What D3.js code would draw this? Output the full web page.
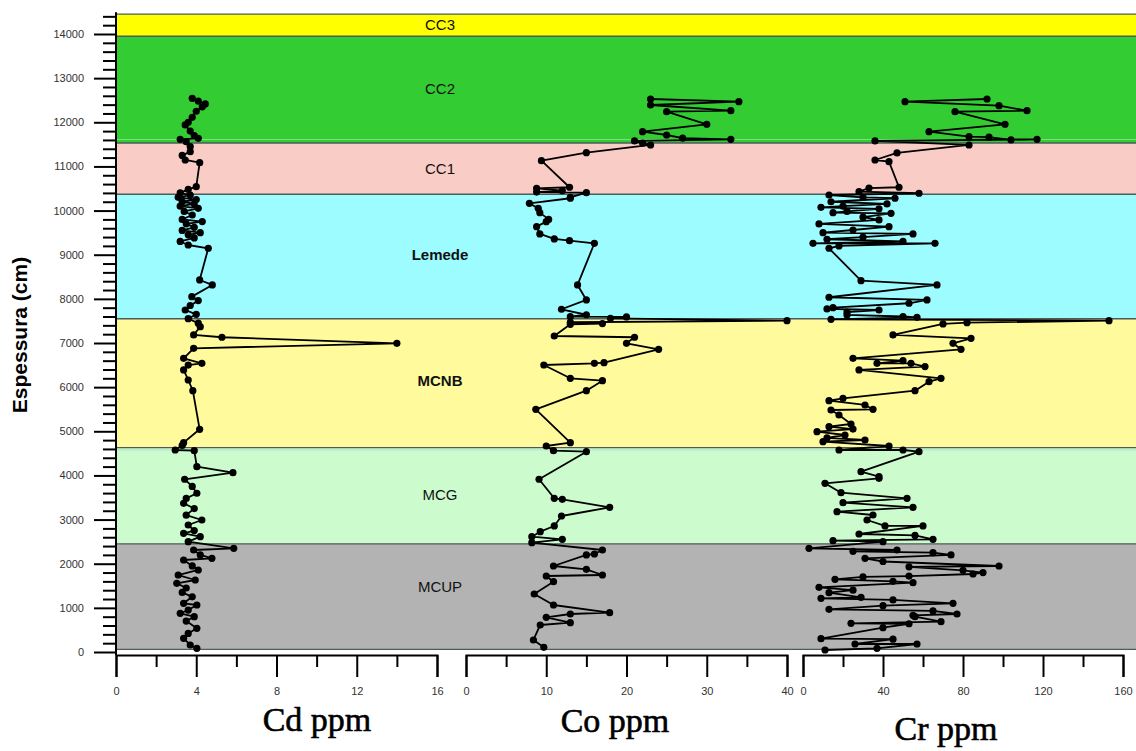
<!DOCTYPE html>
<html>
<head>
<meta charset="utf-8">
<script src="https://cdn.jsdelivr.net/npm/d3@7"></script>
<style>
  html, body { margin: 0; padding: 0; background: #ffffff; }
  svg { display: block; }
</style>
</head>
<body>
<svg id="chart" width="1136" height="751"></svg>
<script>
// ---------------- DATA ----------------
const bandNames = ["CC3", "CC2", "CC1", "Lemede", "MCNB", "MCG", "MCUP"];
const bandTop = [14450, 13950, 11530, 10370, 7550, 4630, 2450];
const bandBottom = [13950, 11530, 10370, 7550, 4630, 2450, 60];
const bandLabelDepth = [14200, 12750, 10950, 9000, 6150, 3560, 1480];

const depthTicks = [0, 1000, 2000, 3000, 4000, 5000, 6000, 7000, 8000, 9000, 10000, 11000, 12000, 13000, 14000];
const cdTicks = [0, 4, 8, 12, 16];
const coTicks = [0, 10, 20, 30, 40];
const crTicks = [0, 40, 80, 120, 160];
const axisTitles = ["Cd ppm", "Co ppm", "Cr ppm"];

// Cd ppm: [depth cm, value]
const cdData = [
  [12543,3.8],[12480,4.1],[12415,4.45],[12350,4.3],[12250,4.0],[12113,3.8],[12000,3.6],[11940,3.45],
  [11800,3.7],[11700,3.9],[11637,4.1],[11615,3.2],[11560,3.5],[11450,3.7],[11334,3.7],[11250,3.3],
  [11146,3.45],[11085,4.17],[10542,4.0],[10480,3.6],[10400,3.2],[10350,3.7],[10300,3.1],[10250,4.0],
  [10200,3.3],[10150,3.9],[10100,3.2],[10050,4.1],[9980,3.4],[9900,3.8],[9800,3.3],[9750,4.3],
  [9700,3.5],[9620,3.9],[9550,3.3],[9500,4.2],[9450,3.6],[9380,3.9],[9300,3.2],[9220,3.6],
  [9146,4.6],[8428,4.17],[8315,4.8],[8050,3.78],[7960,4.1],[7850,3.7],[7748,3.45],[7650,4.0],
  [7550,3.6],[7450,4.1],[7370,4.2],[7182,3.87],[7130,5.28],[6993,14.0],[6880,3.87],[6653,3.37],
  [6540,4.28],[6500,3.6],[6389,3.37],[6162,3.6],[5920,3.83],[5045,4.17],[4742,3.37],[4680,3.3],
  [4576,2.95],[4560,3.9],[4198,4.03],[4062,5.83],[3913,3.42],[3750,3.8],[3596,4.03],[3480,3.5],
  [3369,3.37],[3250,3.9],[3100,3.5],[2990,4.28],[2877,3.6],[2750,3.9],[2689,3.37],[2612,4.2],
  [2500,3.6],[2349,5.87],[2311,3.87],[2200,4.2],[2123,4.78],[2084,3.37],[1950,3.8],[1858,4.1],
  [1744,3.1],[1631,3.95],[1556,3.03],[1450,3.5],[1350,3.3],[1250,3.8],[1103,3.37],[1065,4.03],
  [950,3.6],[877,3.2],[800,3.9],[700,3.5],[537,4.03],[420,3.6],[310,3.37],[159,3.7],[84,4.03]
];

// Co ppm: [depth cm, value]
const coData = [
  [12528,23],[12467,34],[12392,23],[12263,33],[12240,25],[11955,30],[11788,22],[11712,25],
  [11640,27],[11615,33],[11577,21],[11530,22],[11486,23],[11312,15],[11131,9.4],[10528,12.9],
  [10505,8.8],[10450,12],[10420,8.8],[10406,15],[10300,13],[10279,13],[10165,7.9],[10050,9],
  [9953,9.2],[9800,10.3],[9749,10],[9636,8.8],[9470,9.2],[9357,11],[9318,12.9],[9259,16],
  [8315,13.9],[7975,15],[7764,11.9],[7640,15],[7597,13],[7590,20],[7560,18],[7506,40],
  [7470,13],[7440,17],[7424,13],[7159,11],[7130,21],[6993,20],[6857,24],[6555,17.2],
  [6540,16],[6502,9.7],[6200,13],[6146,17],[5920,15],[5498,8.7],[4742,13],[4667,10],
  [4561,10.9],[4538,15],[3913,9.1],[3482,11],[3459,12],[3278,17.9],[3081,11.9],[2855,11],
  [2726,9.25],[2612,8.2],[2553,12],[2476,8.2],[2311,17],[2220,16],[2200,15],[1948,10.9],
  [1873,15],[1744,17],[1722,10],[1593,10.9],[1314,8.5],[1065,10.9],[891,17.9],[861,13],
  [786,10],[664,13],[612,9.25],[272,8.4],[106,9.7]
];

// Cr ppm: [depth cm, value]
const crData = [
  [12528,92],[12467,51],[12377,98],[12263,112],[12240,76],[11955,101],[11788,63],[11677,83],
  [11663,93],[11600,104],[11615,117],[11577,36],[11486,83],[11305,47],[11146,36],[11108,43],
  [10528,48],[10510,33],[10429,28],[10392,58],[10353,13],[10300,30],[10279,46],[10200,14],
  [10150,42],[10100,20],[10074,9],[10040,38],[9980,22],[9953,15],[9938,44],[9850,30],
  [9787,38],[9697,8],[9636,43],[9560,25],[9500,10],[9470,55],[9400,30],[9350,12],
  [9300,50],[9259,5],[9259,66],[9200,18],[9146,13],[8412,29],[8315,67],[8036,13],
  [7975,62],[7900,53],[7800,15],[7771,12],[7748,38],[7700,22],[7635,22],[7600,50],
  [7582,57],[7537,14],[7506,153],[7460,82],[7431,70],[7182,45],[7107,84],[6993,75],
  [6857,79],[6653,25],[6600,50],[6540,37],[6540,54],[6465,61],[6389,28],[6200,69],
  [6124,63],[5920,56],[5747,20],[5693,13],[5596,31],[5498,35],[5482,14],[5369,18],
  [5165,24],[5104,13],[5050,25],[4991,7],[4916,21],[4850,12],[4803,31],[4765,10],
  [4667,43],[4576,18],[4576,50],[4538,58],[4085,29],[3972,38],[3935,38],[3821,11],
  [3609,19],[3482,52],[3383,20],[3278,55],[3179,17],[3104,35],[2990,32],[2855,41],
  [2855,60],[2673,28],[2640,56],[2553,65],[2522,15],[2500,40],[2349,3],[2311,47],
  [2280,25],[2250,65],[2198,74],[2123,31],[2050,40],[1948,98],[1930,53],[1850,80],
  [1800,90],[1767,85],[1720,53],[1700,30],[1647,16],[1600,45],[1570,55],[1466,8],
  [1400,25],[1343,13],[1239,29],[1216,9],[1180,45],[1103,75],[1050,40],[967,13],
  [930,65],[861,77],[830,55],[801,56],[688,69],[650,24],[640,53],[550,40],
  [302,9],[290,45],[181,26],[181,57],[84,37],[45,11]
];

// ---------------- STYLE / LAYOUT ----------------
const W = 1136, H = 751;
const plotLeft = 116, plotRight = 1136;
const bandColors = ["#ffff00", "#33cc33", "#f9ccc6", "#9cfcff", "#fffa9c", "#ccfccd", "#b3b3b3"];

const svg = d3.select("#chart");
svg.append("rect").attr("width", W).attr("height", H).attr("fill", "#ffffff");

const y = d3.scaleLinear().domain([0, 14000]).range([652, 34]);

const xCd = d3.scaleLinear().domain([0, 16]).range([116, 437]);
const xCo = d3.scaleLinear().domain([0, 40]).range([466, 787]);
const xCr = d3.scaleLinear().domain([0, 160]).range([803, 1123]);

// ---- bands ----
const bands = bandNames.map((n, i) => ({ name: n, top: bandTop[i], bottom: bandBottom[i], color: bandColors[i], labelDepth: bandLabelDepth[i] }));

svg.append("g").selectAll("rect").data(bands).join("rect")
  .attr("x", plotLeft)
  .attr("y", d => y(d.top))
  .attr("width", plotRight - plotLeft)
  .attr("height", d => y(d.bottom) - y(d.top))
  .attr("fill", d => d.color);

// light accent line inside CC2 near its base
svg.append("line")
  .attr("x1", plotLeft).attr("x2", plotRight)
  .attr("y1", y(11610)).attr("y2", y(11610))
  .attr("stroke", "#7de07d").attr("stroke-width", 1.2);
// light accent line at top of MCG
svg.append("line")
  .attr("x1", plotLeft).attr("x2", plotRight)
  .attr("y1", y(4580)).attr("y2", y(4580))
  .attr("stroke", "#b5e8d0").attr("stroke-width", 1.2);

// boundaries
const boundaries = bandTop.concat([bandBottom[bandBottom.length - 1]]);
svg.append("g").selectAll("line").data(boundaries).join("line")
  .attr("x1", plotLeft).attr("x2", plotRight)
  .attr("y1", d => y(d)).attr("y2", d => y(d))
  .attr("stroke", "#4d5b5b").attr("stroke-width", 1.4);

// band labels
svg.append("g").selectAll("text").data(bands).join("text")
  .attr("x", 440)
  .attr("y", d => y(d.labelDepth))
  .attr("dy", "0.35em")
  .attr("text-anchor", "middle")
  .attr("font-family", "Liberation Sans, Arial, sans-serif")
  .attr("font-size", 15)
  .attr("font-weight", d => d.name === "Lemede" || d.name === "MCNB" ? "bold" : "normal")
  .attr("fill", "#111")
  .text(d => d.name);

// ---- series ----
function drawSeries(data, xs) {
  const g = svg.append("g");
  const line = d3.line().x(d => xs(d[1])).y(d => y(d[0]));
  g.append("path").datum(data)
    .attr("d", line)
    .attr("fill", "none")
    .attr("stroke", "#000")
    .attr("stroke-width", 1.8)
    .attr("stroke-linejoin", "round");
  g.selectAll("circle").data(data).join("circle")
    .attr("cx", d => xs(d[1]))
    .attr("cy", d => y(d[0]))
    .attr("r", 3.6)
    .attr("fill", "#000");
}
drawSeries(cdData, xCd);
drawSeries(coData, xCo);
drawSeries(crData, xCr);

// ---- Y axis ----
const yMinor = [];
for (let v = 0; v <= 14400; v += 200) if (v % 1000 !== 0) yMinor.push(v);

const yAxisG = svg.append("g").attr("transform", `translate(${plotLeft},0)`);
yAxisG.append("g")
  .call(d3.axisLeft(y).tickValues(yMinor).tickSize(13).tickFormat(""))
  .call(g => g.select(".domain").remove())
  .call(g => g.selectAll("line").attr("stroke", "#000").attr("stroke-width", 2));
yAxisG.append("g")
  .call(d3.axisLeft(y).tickValues(depthTicks).tickSize(22).tickPadding(10).tickFormat(d3.format("d")))
  .call(g => g.select(".domain").remove())
  .call(g => g.selectAll("line").attr("stroke", "#000").attr("stroke-width", 2))
  .call(g => g.selectAll("text")
    .attr("font-family", "Liberation Sans, Arial, sans-serif")
    .attr("font-size", 11).attr("fill", "#333"));
yAxisG.append("line")
  .attr("x1", 0).attr("x2", 0)
  .attr("y1", y(-70)).attr("y2", y(14490))
  .attr("stroke", "#000").attr("stroke-width", 2);

svg.append("text")
  .attr("transform", "translate(27,335) rotate(-90)")
  .attr("text-anchor", "middle")
  .attr("font-family", "Liberation Sans, Arial, sans-serif")
  .attr("font-size", 21)
  .attr("font-weight", "bold")
  .attr("fill", "#000")
  .text("Espessura (cm)");

// ---- X axes ----
function drawXAxis(xs, ticks, title, titleX, titleY) {
  const step = ticks[1] - ticks[0];
  const minor = ticks.slice(0, -1).map(t => t + step / 2);
  const g = svg.append("g").attr("transform", "translate(0,655)");
  g.append("g")
    .call(d3.axisBottom(xs).tickValues(minor).tickSize(12).tickSizeOuter(0).tickFormat(""))
    .call(a => a.select(".domain").remove())
    .call(a => a.selectAll("line").attr("stroke", "#000").attr("stroke-width", 2));
  g.append("g")
    .call(d3.axisBottom(xs).tickValues(ticks).tickSize(22).tickSizeOuter(22).tickPadding(10).tickFormat(d3.format("d")))
    .call(a => a.select(".domain").attr("stroke", "#000").attr("stroke-width", 2))
    .call(a => a.selectAll("line").attr("stroke", "#000").attr("stroke-width", 2))
    .call(a => a.selectAll("text")
      .attr("font-family", "Liberation Sans, Arial, sans-serif")
      .attr("font-size", 11).attr("fill", "#333"));
  svg.append("text")
    .attr("x", titleX)
    .attr("y", titleY)
    .attr("text-anchor", "middle")
    .attr("font-family", "Liberation Serif, 'Times New Roman', serif")
    .attr("font-size", 34)
    .attr("fill", "#000")
    .attr("stroke", "#000")
    .attr("stroke-width", 0.6)
    .text(title);
}
drawXAxis(xCd, cdTicks, axisTitles[0], 317, 731);
drawXAxis(xCo, coTicks, axisTitles[1], 615, 732);
drawXAxis(xCr, crTicks, axisTitles[2], 946, 740);
</script>
</body>
</html>
